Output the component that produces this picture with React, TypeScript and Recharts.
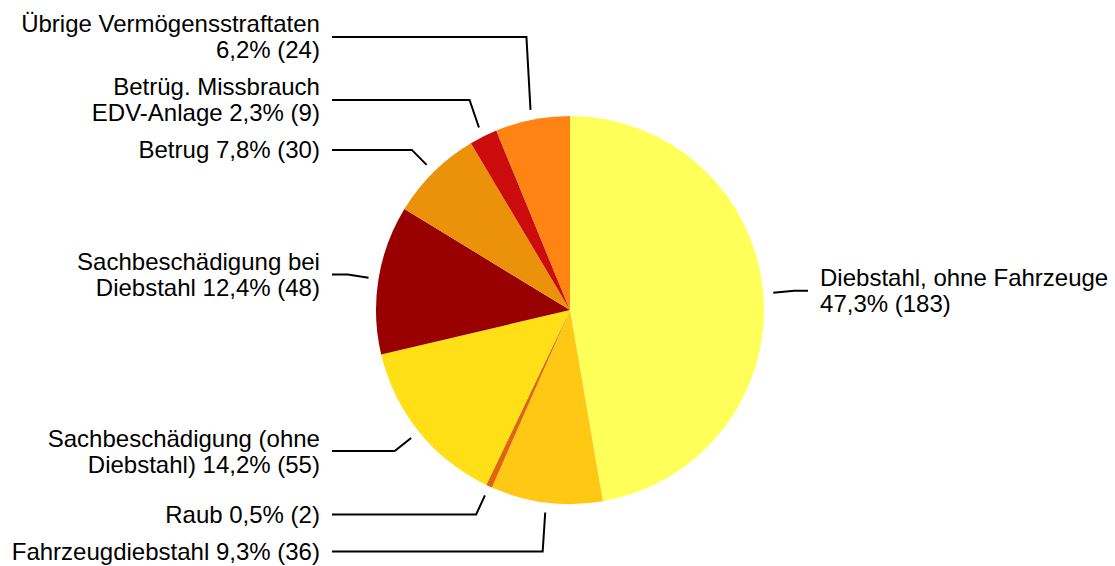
import React from 'react';
import { PieChart, Pie, Cell } from 'recharts';

// categories: "\n" marks where the label wraps
const categories = [
  'Diebstahl, ohne Fahrzeuge\n',
  'Fahrzeugdiebstahl',
  'Raub',
  'Sachbeschädigung (ohne\nDiebstahl)',
  'Sachbeschädigung bei\nDiebstahl',
  'Betrug',
  'Betrüg. Missbrauch\nEDV-Anlage',
  'Übrige Vermögensstraftaten\n',
];
const counts = [183, 36, 2, 55, 48, 30, 9, 24];
const colors = ['#FFFF5A', '#FFC814', '#E0660E', '#FFE016', '#990000', '#EC920A', '#CC0C0C', '#FF8414'];

const total = counts.reduce((a, b) => a + b, 0);
const data = categories.map((name, i) => ({ name, value: counts[i] }));

const RAD = Math.PI / 180;
const LINE_H = 26;
const PAD = 11;
const FONT = '"Liberation Sans", Arial, sans-serif';

const labelLines = (i: number) => {
  const pct = ((counts[i] / total) * 100).toFixed(1).replace('.', ',');
  return `${categories[i]} ${pct}% (${counts[i]})`.split('\n').map(s => s.trim());
};

type Placed = { side: number; y: number; elbowX: number; h: number; natY: number };

// place labels around the pie and push apart the ones that would overlap
const layoutLabels = (cx: number, cy: number, r: number): Placed[] => {
  const rl = r * 1.16;
  let acc = 0;
  const items = counts.map((v, i) => {
    const mid = 90 - ((acc + v / 2) / total) * 360;
    acc += v;
    const c = Math.cos(mid * RAD);
    const s = Math.sin(mid * RAD);
    const natY = cy - rl * s;
    return { i, side: c >= 0 ? 1 : -1, natY, y: natY, elbowX: cx + rl * c, h: labelLines(i).length * LINE_H };
  });
  [1, -1].forEach(side => {
    const upper = items.filter(d => d.side === side && d.natY < cy).sort((a, b) => b.natY - a.natY);
    for (let k = 1; k < upper.length; k++) {
      upper[k].y = Math.min(upper[k].natY, upper[k - 1].y - (upper[k - 1].h + upper[k].h) / 2 - PAD);
    }
    const lower = items.filter(d => d.side === side && d.natY >= cy).sort((a, b) => a.natY - b.natY);
    for (let k = 1; k < lower.length; k++) {
      lower[k].y = Math.max(lower[k].natY, lower[k - 1].y + (lower[k - 1].h + lower[k].h) / 2 + PAD);
    }
  });
  const out: Placed[] = [];
  items.forEach(d => (out[d.i] = d));
  return out;
};

const renderLabel = (props: any) => {
  const { cx, cy, midAngle, outerRadius, index } = props;
  const placed = layoutLabels(cx, cy, outerRadius)[index];
  const sx = cx + (outerRadius + 10) * Math.cos(-midAngle * RAD);
  const sy = cy + (outerRadius + 10) * Math.sin(-midAngle * RAD);
  const ex = cx + placed.side * (outerRadius * 1.16 + 13);
  const tx = ex + placed.side * 12;
  const lines = labelLines(index);
  return (
    <g>
      <polyline
        points={`${sx},${sy} ${placed.elbowX},${placed.y} ${ex},${placed.y}`}
        fill="none"
        stroke="#000"
        strokeWidth={2}
      />
      <text
        x={tx}
        y={placed.y}
        textAnchor={placed.side > 0 ? 'start' : 'end'}
        fill="#000"
        fontSize={24}
        fontFamily={FONT}
      >
        {lines.map((ln, j) => (
          <tspan key={j} x={tx} y={placed.y + (j - (lines.length - 1) / 2) * LINE_H} dominantBaseline="central">
            {ln}
          </tspan>
        ))}
      </text>
    </g>
  );
};

export default function App() {
  return (
    <div style={{ position: 'absolute', left: 0, top: 0, width: 1115, height: 566, background: '#fff' }}>
      <PieChart width={1115} height={566} margin={{ top: 0, right: 0, bottom: 0, left: 0 }}>
        <Pie
          data={data}
          dataKey="value"
          nameKey="name"
          cx={570}
          cy={310}
          outerRadius={194}
          startAngle={90}
          endAngle={-270}
          stroke="none"
          label={renderLabel}
          labelLine={false}
          isAnimationActive={false}
        >
          {data.map((d, i) => (
            <Cell key={d.name} fill={colors[i]} />
          ))}
        </Pie>
      </PieChart>
    </div>
  );
}
